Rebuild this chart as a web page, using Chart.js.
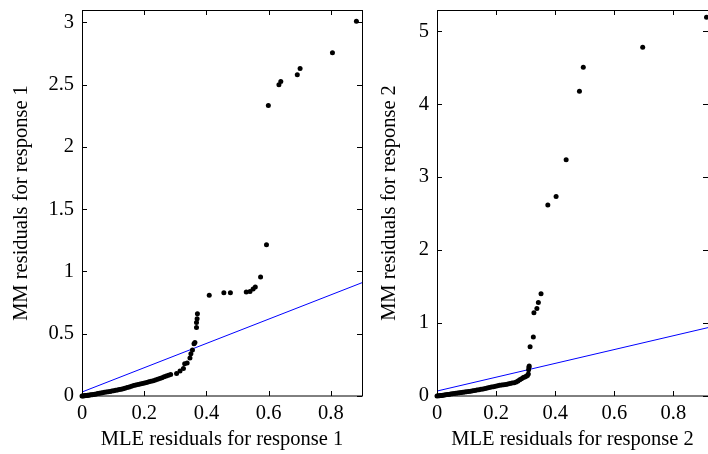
<!DOCTYPE html>
<html>
<head>
<meta charset="utf-8">
<script src="https://cdn.jsdelivr.net/npm/chart.js@4/dist/chart.umd.min.js"></script>
<style>
  html, body { margin: 0; padding: 0; background: #fff; }
  #wrap { position: relative; width: 708px; height: 454px; overflow: hidden; }
  canvas { position: absolute; top: 0; }
  #c1 { left: 0; }
  #c2 { left: 372px; }
</style>
</head>
<body>
<div id="wrap">
  <canvas id="c1" width="372" height="454"></canvas>
  <canvas id="c2" width="340" height="454"></canvas>
</div>
<script>
// response 1: MLE residual (x) vs MM residual (y)
var res1X = [0.000, 0.003, 0.006, 0.009, 0.012, 0.015, 0.018, 0.021, 0.025, 0.029,
    0.033, 0.037, 0.041, 0.046, 0.051, 0.056, 0.061, 0.066, 0.072, 0.078,
    0.084, 0.090, 0.096, 0.102, 0.108, 0.114, 0.120, 0.126, 0.132, 0.138,
    0.145, 0.152, 0.159, 0.166, 0.173, 0.180, 0.187, 0.194, 0.201, 0.208,
    0.215, 0.222, 0.229, 0.236, 0.243, 0.250, 0.257, 0.264, 0.271, 0.278,
    0.285, 0.304, 0.315, 0.326, 0.330, 0.338, 0.347, 0.350, 0.355, 0.360,
    0.363, 0.368, 0.368, 0.370, 0.371, 0.409, 0.456, 0.477, 0.528, 0.540,
    0.550, 0.557, 0.574, 0.593, 0.599, 0.633, 0.639, 0.692, 0.701, 0.805, 0.882];
var res1Y = [0.000, 0.001, 0.002, 0.003, 0.004, 0.005, 0.006, 0.007, 0.008, 0.010,
    0.011, 0.013, 0.015, 0.017, 0.020, 0.022, 0.025, 0.027, 0.030, 0.032,
    0.035, 0.037, 0.040, 0.043, 0.046, 0.049, 0.052, 0.055, 0.059, 0.063,
    0.068, 0.073, 0.078, 0.084, 0.088, 0.092, 0.096, 0.101, 0.105, 0.109,
    0.114, 0.118, 0.123, 0.129, 0.134, 0.140, 0.147, 0.154, 0.160, 0.166,
    0.172, 0.180, 0.200, 0.220, 0.260, 0.265, 0.305, 0.340, 0.370, 0.420,
    0.430, 0.550, 0.590, 0.620, 0.660, 0.810, 0.830, 0.830, 0.835, 0.840,
    0.860, 0.875, 0.955, 1.215, 2.333, 2.500, 2.526, 2.580, 2.630, 2.756, 3.010];
var fit1X = [0, 0.9];
var fit1Y = [0.032, 0.910];

// response 2
var res2X = [0.000, 0.004, 0.008, 0.012, 0.016, 0.020, 0.025, 0.030, 0.035, 0.040,
    0.046, 0.052, 0.058, 0.064, 0.070, 0.076, 0.082, 0.088, 0.094, 0.100,
    0.107, 0.114, 0.121, 0.128, 0.135, 0.142, 0.149, 0.156, 0.163, 0.170,
    0.177, 0.184, 0.191, 0.198, 0.205, 0.212, 0.219, 0.226, 0.233, 0.240,
    0.247, 0.254, 0.261, 0.268, 0.274, 0.280, 0.286, 0.292, 0.297, 0.302,
    0.306, 0.309, 0.310, 0.311, 0.312, 0.315, 0.326, 0.328, 0.338, 0.343,
    0.352, 0.375, 0.403, 0.437, 0.482, 0.495, 0.696, 0.912];
var res2Y = [0.000, 0.002, 0.004, 0.006, 0.008, 0.010, 0.013, 0.016, 0.019, 0.022,
    0.026, 0.030, 0.034, 0.037, 0.041, 0.044, 0.048, 0.051, 0.055, 0.058,
    0.062, 0.066, 0.071, 0.076, 0.081, 0.086, 0.091, 0.096, 0.103, 0.110,
    0.116, 0.122, 0.128, 0.135, 0.142, 0.146, 0.150, 0.153, 0.157, 0.165,
    0.172, 0.177, 0.183, 0.192, 0.205, 0.222, 0.238, 0.252, 0.262, 0.272,
    0.282, 0.300, 0.360, 0.395, 0.410, 0.675, 0.810, 1.140, 1.200, 1.280,
    1.400, 2.616, 2.735, 3.237, 4.178, 4.507, 4.780, 5.190];
var fit2X = [0, 0.92];
var fit2Y = [0.068, 0.940];

var xTicks = [0, 0.2, 0.4, 0.6, 0.8];
var xTitle1 = 'MLE residuals for response 1';
var yTitle1 = 'MM residuals for response 1';
var xTitle2 = 'MLE residuals for response 2';
var yTitle2 = 'MM residuals for response 2';

var FONT = { family: '"Liberation Serif", "DejaVu Serif", serif', size: 20.5 };

function pairs(xs, ys) {
    var out = [], i;
    for (i = 0; i < xs.length; i += 1) {
        out.push({ x: xs[i], y: ys[i] });
    }
    return out;
}

function fmt(v) {
    return String(+v.toFixed(2));
}

// box round the plot area, with short ticks pointing inwards on all four sides
var framePlugin = {
    id: 'frame',
    afterDraw: function (chart) {
        var ctx = chart.ctx, a = chart.chartArea;
        var xs = chart.scales.x, ys = chart.scales.y, t = 5;
        ctx.save();
        ctx.strokeStyle = '#000';
        ctx.lineWidth = 1;
        ctx.strokeRect(a.left + 0.5, a.top + 0.5, a.right - a.left, a.bottom - a.top - 0.5);
        ctx.beginPath();
        xs.ticks.forEach(function (tk) {
            var px = Math.round(xs.getPixelForValue(tk.value)) + 0.5;
            ctx.moveTo(px, a.bottom); ctx.lineTo(px, a.bottom - t);
            ctx.moveTo(px, a.top); ctx.lineTo(px, a.top + t);
        });
        ys.ticks.forEach(function (tk) {
            var py = Math.round(ys.getPixelForValue(tk.value)) + 0.5;
            ctx.moveTo(a.left, py); ctx.lineTo(a.left + t, py);
            ctx.moveTo(a.right, py); ctx.lineTo(a.right - t, py);
        });
        ctx.stroke();
        ctx.restore();
    }
};

function makeChart(id, o) {
    return new Chart(document.getElementById(id), {
        type: 'scatter',
        data: {
            datasets: [{
                data: pairs(o.px, o.py),
                backgroundColor: '#000',
                borderWidth: 0,
                pointRadius: 2.5,
                clip: false,
                order: 0
            }, {
                type: 'line',
                data: pairs(o.fx, o.fy),
                borderColor: '#0000ff',
                borderWidth: 1,
                pointRadius: 0,
                fill: false,
                order: 1
            }]
        },
        options: {
            responsive: false,
            animation: false,
            events: [],
            layout: { padding: { top: 10, right: o.padRight, left: 0, bottom: 0 } },
            plugins: { legend: { display: false }, tooltip: { enabled: false } },
            scales: {
                x: {
                    type: 'linear',
                    min: 0,
                    max: o.xMax,
                    afterFit: function (s) { s.height = 58; s.paddingLeft = 0; s.paddingRight = 0; },
                    afterBuildTicks: function (s) {
                        s.ticks = xTicks.map(function (v) { return { value: v }; });
                    },
                    grid: { display: false, drawTicks: false },
                    border: { display: false },
                    ticks: { color: '#000', font: FONT, padding: 5, maxRotation: 0, callback: fmt },
                    title: { display: true, text: o.xTitle, color: '#000', font: FONT, padding: { top: 0, bottom: 2 } }
                },
                y: {
                    type: 'linear',
                    min: 0,
                    max: o.yMax,
                    afterFit: function (s) { s.width = o.yWidth; s.paddingTop = 0; s.paddingBottom = 0; },
                    grid: { display: false, drawTicks: false },
                    border: { display: false },
                    ticks: { color: '#000', font: FONT, padding: 8, stepSize: o.yStep, includeBounds: false, callback: fmt },
                    title: { display: true, text: o.yTitle, color: '#000', font: FONT, padding: { top: o.yTitlePad, bottom: 0 } }
                }
            }
        },
        plugins: [framePlugin]
    });
}

makeChart('c1', {
    px: res1X, py: res1Y, fx: fit1X, fy: fit1Y,
    xMax: 0.9, yMax: 3.1, yStep: 0.5, yWidth: 82, padRight: 10, yTitlePad: 9,
    xTitle: xTitle1, yTitle: yTitle1
});
// the second canvas runs past the window so the right border falls outside it
makeChart('c2', {
    px: res2X, py: res2Y, fx: fit2X, fy: fit2Y,
    xMax: 0.917, yMax: 5.29, yStep: 1, yWidth: 65, padRight: 3, yTitlePad: 5,
    xTitle: xTitle2, yTitle: yTitle2
});
</script>
</body>
</html>
